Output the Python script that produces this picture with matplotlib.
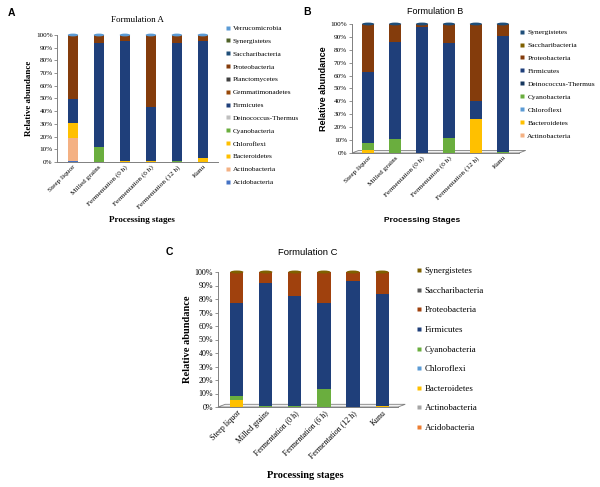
import matplotlib
matplotlib.use("Agg")
import matplotlib.pyplot as plt
from matplotlib.patches import Ellipse, Polygon
from matplotlib.lines import Line2D
from matplotlib.ticker import PercentFormatter
import numpy as np

stages = ["Steep liquor", "Milled grains", "Fermentation (0 h)",
          "Fermentation (6 h)", "Fermentation (12 h)", "Kunu"]

# ---------------- Formulation A (stack order bottom -> top) ----------------
phyla_A = ["Acidobacteria", "Actinobacteria", "Bacteroidetes", "Chloroflexi",
           "Cyanobacteria", "Deinococcus-Thermus", "Firmicutes", "Gemmatimonadetes",
           "Planctomycetes", "Proteobacteria", "Saccharibacteria", "Synergistetes",
           "Verrucomicrobia"]
colors_A = ["#4472C4", "#F4B183", "#FFC000", "#FFC000", "#6AAE3E", "#BFBFBF",
            "#1F3F7A", "#984807", "#404040", "#843C0C", "#1F4E79", "#4F6228",
            "#5B9BD5"]
A_acidobacteria    = [1, 0, 0, 0, 0, 0]
A_actinobacteria   = [18, 0, 0, 0, 0, 0]
A_bacteroidetes    = [12, 0, 0.5, 0.5, 0, 3.5]
A_chloroflexi      = [0, 0, 0, 0, 0, 0]
A_cyanobacteria    = [0, 12, 0, 0, 1, 0]
A_deinococcus      = [0, 0, 0, 0, 0, 0]
A_firmicutes       = [19, 82, 94.5, 42.5, 92.5, 92]
A_gemmatimonadetes = [0, 0, 0, 0, 0, 0]
A_planctomycetes   = [0, 0, 0, 0, 0, 0]
A_proteobacteria   = [50, 6, 5, 57, 6.5, 4.5]
A_saccharibacteria = [0, 0, 0, 0, 0, 0]
A_synergistetes    = [0, 0, 0, 0, 0, 0]
A_verrucomicrobia  = [0, 0, 0, 0, 0, 0]
values_A = [A_acidobacteria, A_actinobacteria, A_bacteroidetes, A_chloroflexi,
            A_cyanobacteria, A_deinococcus, A_firmicutes, A_gemmatimonadetes,
            A_planctomycetes, A_proteobacteria, A_saccharibacteria,
            A_synergistetes, A_verrucomicrobia]

# ---------------- Formulation B ----------------
phyla_B = ["Actinobacteria", "Bacteroidetes", "Chloroflexi", "Cyanobacteria",
           "Deinococcus-Thermus", "Firmicutes", "Proteobacteria",
           "Saccharibacteria", "Synergistetes"]
colors_B = ["#F4B183", "#FFC000", "#5B9BD5", "#6AAE3E", "#17375E", "#1F3F7A",
            "#843C0C", "#7F6000", "#1F4E79"]
B_actinobacteria   = [0, 0, 0, 0, 0, 0]
B_bacteroidetes    = [2, 0, 0, 0, 26, 0]
B_chloroflexi      = [0, 0, 0, 0, 0, 0]
B_cyanobacteria    = [6, 11, 0, 12, 0, 0.5]
B_deinococcus      = [0, 0, 0, 0, 0, 0]
B_firmicutes       = [55, 75, 98, 73, 14, 90.5]
B_proteobacteria   = [37, 14, 2, 15, 60, 9]
B_saccharibacteria = [0, 0, 0, 0, 0, 0]
B_synergistetes    = [0, 0, 0, 0, 0, 0]
values_B = [B_actinobacteria, B_bacteroidetes, B_chloroflexi, B_cyanobacteria,
            B_deinococcus, B_firmicutes, B_proteobacteria, B_saccharibacteria,
            B_synergistetes]

# ---------------- Formulation C ----------------
phyla_C = ["Acidobacteria", "Actinobacteria", "Bacteroidetes", "Chloroflexi",
           "Cyanobacteria", "Firmicutes", "Proteobacteria", "Saccharibacteria",
           "Synergistetes"]
colors_C = ["#ED7D31", "#A5A5A5", "#FFC000", "#5B9BD5", "#6AAE3E", "#1F3F7A",
            "#A0410D", "#595959", "#7F6000"]
C_acidobacteria    = [0, 0, 0, 0, 0, 0]
C_actinobacteria   = [0, 0, 0, 0, 0, 0]
C_bacteroidetes    = [5, 0, 0, 0, 0, 0.5]
C_chloroflexi      = [0, 0, 0, 0, 0, 0]
C_cyanobacteria    = [3, 1, 0.5, 13.5, 0, 0]
C_firmicutes       = [69, 91, 81.5, 63.5, 93.5, 83.5]
C_proteobacteria   = [23, 8, 18, 23, 6.5, 16]
C_saccharibacteria = [0, 0, 0, 0, 0, 0]
C_synergistetes    = [0, 0, 0, 0, 0, 0]
values_C = [C_acidobacteria, C_actinobacteria, C_bacteroidetes, C_chloroflexi,
            C_cyanobacteria, C_firmicutes, C_proteobacteria, C_saccharibacteria,
            C_synergistetes]

SERIF = "Liberation Serif"
SANS = "Liberation Sans"

fig = plt.figure(figsize=(6.0, 4.87), dpi=100)


def panel(rect, xlim, phyla, colors, values, title, title_font, title_pad,
          letter, letter_pos, ylabel_font, xlabel, xlabel_font, xlabel_pos,
          legend_anchor, legend_fs, legend_spacing, marker_size, tick_fs,
          bar_w, floor):
    ax = fig.add_axes(rect)
    x = np.arange(len(stages))
    bottom = np.zeros(len(stages))
    for name, col, vals in zip(phyla, colors, values):
        v = np.array(vals, dtype=float)
        ax.bar(x, v, bar_w, bottom=bottom, color=col, edgecolor="none",
               label=name, zorder=3)
        bottom += v
    # cylinder caps in top series colour
    for xi, top in zip(x, bottom):
        ax.add_patch(Ellipse((xi, top), bar_w, 2.2, facecolor=colors[-1],
                             edgecolor="none", zorder=4, clip_on=False))
    ax.set_xlim(*xlim)
    ax.set_ylim(0, 100)
    ax.yaxis.set_major_formatter(PercentFormatter(decimals=0))
    ax.set_yticks(np.arange(0, 101, 10))
    ax.set_xticks(x)
    ax.set_xticklabels(stages, rotation=45, ha="right", rotation_mode="anchor",
                       fontfamily=SERIF, fontsize=tick_fs)
    for lab in ax.get_yticklabels():
        lab.set_fontfamily(SERIF)
        lab.set_fontsize(tick_fs)
    ax.tick_params(axis="both", length=2, width=0.6, pad=1.5, color="#808080")
    ax.tick_params(axis="x", length=0)
    for s in ["top", "right"]:
        ax.spines[s].set_visible(False)
    for s in ["left", "bottom"]:
        ax.spines[s].set_color("#808080")
        ax.spines[s].set_linewidth(0.7)
    if floor:
        x0, x1 = ax.get_xlim()
        d = 0.25
        ax.add_patch(Polygon([[x0, 0], [x1, 0], [x1 + d, 2.0], [x0 + d, 2.0]],
                             closed=True, facecolor="#F2F2F2", edgecolor="#808080",
                             linewidth=0.6, zorder=1, clip_on=False))
    ax.set_title(title, fontfamily=title_font[0], fontsize=title_font[1],
                 pad=title_pad)
    ax.set_ylabel("Relative abundance", fontfamily=ylabel_font[0],
                  fontsize=ylabel_font[1], fontweight="bold", labelpad=2)
    fig.text(letter_pos[0], letter_pos[1], letter, fontfamily=SANS,
             fontsize=7.5, fontweight="bold", ha="left", va="center")
    fig.text(xlabel_pos[0], xlabel_pos[1], xlabel, fontfamily=xlabel_font[0],
             fontsize=xlabel_font[1], fontweight="bold", ha="center", va="center")
    handles = [Line2D([], [], marker="s", linestyle="none", markersize=marker_size,
                      markerfacecolor=c, markeredgecolor="none", label=n)
               for n, c in zip(phyla, colors)]
    fig.legend(handles=handles[::-1], loc="upper left",
               bbox_to_anchor=legend_anchor, frameon=False,
               prop={"family": SERIF, "size": legend_fs},
               labelspacing=legend_spacing, handlelength=0.8,
               handletextpad=0.3, borderpad=0, borderaxespad=0)
    return ax


H = 487.0
W = 600.0
# Panel A
panel([57.4 / W, 1 - 162 / H, 161 / W, 127 / H], (-0.6, 5.6),
      phyla_A, colors_A, values_A, "Formulation A", (SERIF, 6.5), 9,
      "A", (8 / W, 1 - 13 / H), (SERIF, 6.5),
      "Processing stages", (SERIF, 6.5), (142 / W, 1 - 220 / H),
      (225 / W, 1 - 25 / H), 5.2, 0.94, 3, 5.2, 0.4, False)
# Panel B
panel([352 / W, 1 - 153 / H, 167 / W, 129 / H], (-0.6, 5.6),
      phyla_B, colors_B, values_B, "Formulation B", (SANS, 6.5), 7,
      "B", (303 / W, 1 - 12 / H), (SANS, 6.5),
      "Processing Stages", (SANS, 6.0), (422 / W, 1 - 220 / H),
      (519 / W, 1 - 29 / H), 5.4, 0.89, 3, 5.2, 0.45, True)
# Panel C
panel([218 / W, 1 - 407 / H, 180 / W, 135 / H], (-0.65, 5.55),
      phyla_C, colors_C, values_C, "Formulation C", (SANS, 6.8), 12,
      "C", (166 / W, 1 - 252 / H), (SERIF, 7.5),
      "Processing stages", (SERIF, 7.5), (305 / W, 1 - 476 / H),
      (415 / W, 1 - 267 / H), 6.4, 1.28, 3.5, 5.8, 0.45, True)

fig.savefig("out.png", dpi=100)
